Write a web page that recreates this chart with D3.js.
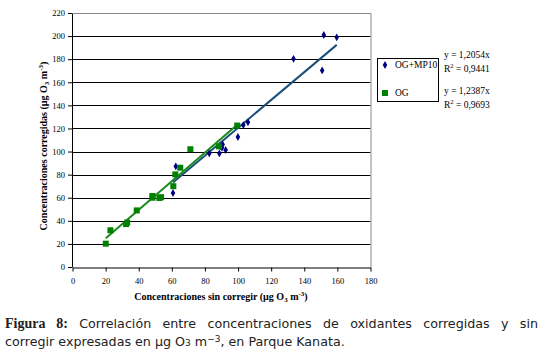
<!DOCTYPE html>
<html>
<head>
<meta charset="utf-8">
<script src="https://cdn.jsdelivr.net/npm/d3@7"></script>
<style>
  body { margin: 0; background: #fff; width: 545px; height: 363px; overflow: hidden; }
  #caption {
    position: absolute; left: 5px; top: 315px; width: 533px;
    font-family: "DejaVu Sans", Verdana, sans-serif; font-size: 12.7px;
    line-height: 18px; color: #222;
  }
  #caption .l1 { text-align: justify; text-align-last: justify; white-space: nowrap; }
  #caption b { font-family: "Liberation Serif", serif; font-size: 14px; font-weight: bold; }
  #caption .sm { font-size: 9px; }
  #caption sup { font-size: 9px; line-height: 0; vertical-align: 4px; }
</style>
</head>
<body>
<div id="chart"></div>
<div id="caption"><div class="l1"><b>Figura 8:</b> Correlación entre concentraciones de oxidantes corregidas y sin</div><div>corregir expresadas en µg O<span class="sm">3</span> m<sup>−3</sup>, en Parque Kanata.</div></div>
<script>
// OG+MP10 points (x: sin corregir, y: corregidas)
const mp10X = [60.7, 62.4, 82.6, 88.7, 90.3, 90.7, 92.5, 89.5, 99.9, 103.2, 106, 133.5, 150.8, 151.8, 159.6];
const mp10Y = [64.1, 87.2, 98.4, 98.4, 103.3, 106.2, 101.3, 104.5, 112.6, 122.9, 125.3, 180.3, 170.3, 200.9, 198.9];
// OG points
const ogX = [20.1, 22.9, 32.4, 33, 38.8, 48.3, 48.3, 52.5, 53.5, 60.9, 62.1, 65.1, 71.2, 88.5, 99.5];
const ogY = [20.2, 31.8, 37.2, 38.5, 49, 61.5, 60, 59.8, 60.5, 70, 80.2, 86, 102, 104.5, 122.5];
const slopes = { mp10: 1.2054, og: 1.2387 };
const xTicks = [0, 20, 40, 60, 80, 100, 120, 140, 160, 180];
const yTicks = [0, 20, 40, 60, 80, 100, 120, 140, 160, 180, 200, 220];

const serif = "'Liberation Serif', 'Times New Roman', serif";
const blueC = "#000080", greenC = "#008000";

const svg = d3.select("#chart").append("svg")
  .attr("width", 545).attr("height", 312);

const x = d3.scaleLinear().domain([0, 180]).range([72.5, 370.5]);
const y = d3.scaleLinear().domain([0, 220]).range([267, 13]);

// gridlines
svg.append("g").selectAll("line").data(yTicks.slice(1, -1)).join("line")
  .attr("x1", x(0)).attr("x2", x(180))
  .attr("y1", d => Math.round(y(d)) + 0.5).attr("y2", d => Math.round(y(d)) + 0.5)
  .attr("stroke", "#000").attr("stroke-width", 1);

// plot border top/right (gray)
svg.append("path")
  .attr("d", `M${x(0)},${y(220) + 0.5}H${x(180) + 0.5}V${y(0)}`)
  .attr("fill", "none").attr("stroke", "#888");

// axes
const xAxis = svg.append("g").attr("transform", `translate(0,${y(0) + 0.5})`)
  .call(d3.axisBottom(x).tickValues(xTicks).tickSize(4).tickSizeOuter(0));
const yAxis = svg.append("g").attr("transform", `translate(${x(0) - 0.5},0)`)
  .call(d3.axisLeft(y).tickValues(yTicks).tickSize(4).tickSizeOuter(0));
[xAxis, yAxis].forEach(a => {
  a.selectAll("path, line").attr("stroke", "#000");
  a.selectAll("text").attr("font-family", serif).attr("font-size", 8.5).attr("fill", "#000");
});
xAxis.selectAll("text").attr("dy", "1.1em");

// axis titles
const xt = svg.append("text").attr("x", 221).attr("y", 300)
  .attr("text-anchor", "middle").attr("font-family", serif)
  .attr("font-size", 10).attr("font-weight", "bold");
xt.append("tspan").text("Concentraciones sin corregir (µg O");
xt.append("tspan").attr("font-size", 7).attr("dy", 2).text("3");
xt.append("tspan").attr("dy", -2).text(" m");
xt.append("tspan").attr("font-size", 7).attr("dy", -4).text("-3");
xt.append("tspan").attr("dy", 4).text(")");

const yt = svg.append("text").attr("transform", "translate(47,146) rotate(-90)")
  .attr("text-anchor", "middle").attr("font-family", serif)
  .attr("font-size", 10).attr("font-weight", "bold");
yt.append("tspan").text("Concentraciones corregidas (µg O");
yt.append("tspan").attr("font-size", 7).attr("dy", 2).text("3");
yt.append("tspan").attr("dy", -2).text(" m");
yt.append("tspan").attr("font-size", 7).attr("dy", -4).text("-3");
yt.append("tspan").attr("dy", 4).text(")");

// trendlines
function trend(xs, k, color) {
  const x0 = d3.min(xs), x1 = d3.max(xs);
  svg.append("line")
    .attr("x1", x(x0)).attr("y1", y(k * x0))
    .attr("x2", x(x1)).attr("y2", y(k * x1))
    .attr("stroke", color).attr("stroke-width", 2);
}
trend(mp10X, slopes.mp10, "#1b4f78");
trend(ogX, slopes.og, "#1a8a1a");

// points
const diamond = d3.symbol().type(d3.symbolDiamond).size(18);
svg.append("g").selectAll("path").data(d3.zip(mp10X, mp10Y)).join("path")
  .attr("d", diamond)
  .attr("transform", d => `translate(${x(d[0])},${y(d[1])})`)
  .attr("fill", blueC);
svg.append("g").selectAll("rect").data(d3.zip(ogX, ogY)).join("rect")
  .attr("x", d => x(d[0]) - 3).attr("y", d => y(d[1]) - 3)
  .attr("width", 6).attr("height", 6).attr("fill", greenC);

// legend
svg.append("rect").attr("x", 377.5).attr("y", 58.5).attr("width", 61).attr("height", 43)
  .attr("fill", "#fff").attr("stroke", "#000");
svg.append("path").attr("d", diamond).attr("transform", "translate(385,65)").attr("fill", blueC);
svg.append("rect").attr("x", 382).attr("y", 90).attr("width", 6).attr("height", 6).attr("fill", greenC);
[["OG+MP10", 65], ["OG", 93]].forEach(([t, cy]) => {
  svg.append("text").attr("x", 395).attr("y", cy).attr("dy", "0.35em")
    .attr("font-family", serif).attr("font-size", 9.5).text(t);
});

// equations
function eq(k, r2, top) {
  svg.append("text").attr("x", 444).attr("y", top).attr("dy", "0.35em")
    .attr("font-family", serif).attr("font-size", 9.5)
    .text(`y = ${String(k).replace(".", ",")}x`);
  const t = svg.append("text").attr("x", 444).attr("y", top + 14).attr("dy", "0.35em")
    .attr("font-family", serif).attr("font-size", 9.5);
  t.append("tspan").text("R");
  t.append("tspan").attr("font-size", 6.5).attr("dy", -4).text("2");
  t.append("tspan").attr("dy", 4).text(` = ${String(r2).replace(".", ",")}`);
}
eq(slopes.mp10, 0.9441, 55);
eq(slopes.og, 0.9693, 91);
</script>
</body>
</html>
